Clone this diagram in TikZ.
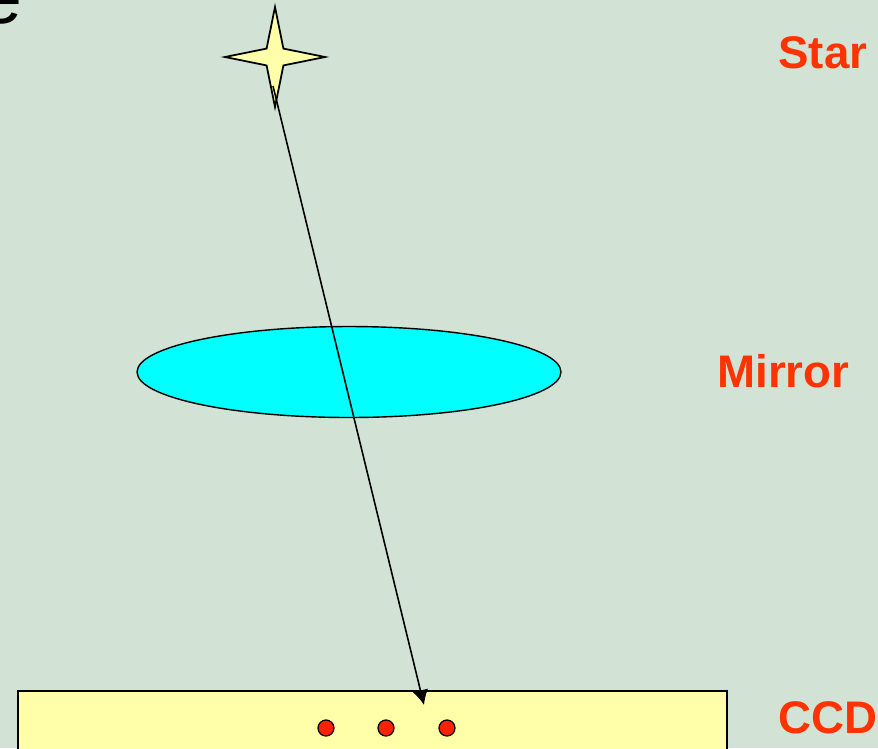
\documentclass[tikz,border=0pt]{standalone}
\usepackage{fontspec}
\setmainfont{Liberation Sans}
\usepackage{tikz}
\usetikzlibrary{arrows.meta, positioning, calc, shapes, shapes.geometric}
\usepackage{xcolor}
\definecolor{bgcol}{HTML}{D2E3D6}
\definecolor{labelred}{HTML}{FF3300}
\definecolor{dotred}{HTML}{FF2200}
\definecolor{paleyellow}{HTML}{FFFFAA}
\definecolor{mirrorcyan}{HTML}{00FFFF}

\begin{document}
\begin{tikzpicture}[x=0.02cm, y=-0.02cm, >=Latex,
  label/.style={text=labelred, font=\bfseries\fontsize{26}{30}\selectfont, inner sep=0pt, anchor=base west},
  dot/.style={circle, draw, fill=dotred, minimum size=0.32cm, inner sep=0pt, line width=0.7pt}]
  \fill [bgcol] (0,0) rectangle (878,748);
  \useasboundingbox (0,0) rectangle (878,748);
  % cut-off title letter
  \node [anchor=base east, inner sep=0pt, font=\fontsize{44}{50}\selectfont] (title) at (23,23) {e};
  \node [draw, fill=paleyellow, shape=star, star points=4, star point ratio=4.2, minimum size=2cm, inner sep=0pt, line width=1pt] (star) at (275,57) {};
  \node [draw, fill=mirrorcyan, ellipse, minimum width=8.48cm, minimum height=1.82cm, inner sep=0pt, line width=0.8pt] (mirror) at (349,372) {};
  \node [draw, fill=paleyellow, rectangle, anchor=north west, minimum width=14.18cm, minimum height=1.8cm, inner sep=0pt, line width=1.2pt] (ccd) at (17,690) {};
  \foreach \i/\x in {1/326, 2/386, 3/447}
    \node [dot] (d\i) at (\x,728) {};
  \coordinate (rayStart) at (273,86);
  \coordinate (rayEnd) at (424,705);
  \draw [line width=0.9pt, -{Latex[length=8.5pt,width=9pt]}] (rayStart) -- (rayEnd);
  \node [label] (starlbl) at (778,68) {Star};
  \node [label] (mirrorlbl) at (717,387) {Mirror};
  \node [label] (ccdlbl) at (778,733) {CCD};
\end{tikzpicture}
\end{document}
